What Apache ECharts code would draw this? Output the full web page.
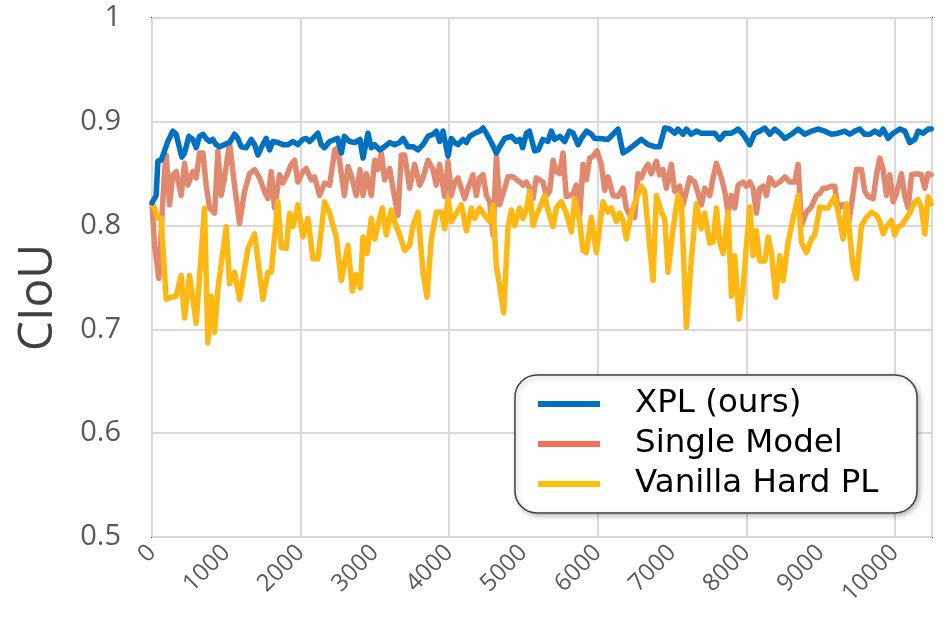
<!DOCTYPE html>
<html>
<head>
<meta charset="utf-8">
<script src="https://cdn.jsdelivr.net/npm/echarts@6/dist/echarts.min.js"></script>
<style>html,body{margin:0;padding:0;background:#fff;}#chart{width:951px;height:620px;}</style>
</head>
<body>
<div id="chart"></div>
<script>
// [iteration, CIoU]
const xplData = [
[0,0.822],[56,0.829],[79,0.862],[123,0.863],[168,0.872],[213,0.881],[281,0.891],[325,0.888],[370,0.875],[402,0.866],[438,0.870],[496,0.886],[550,0.883],[595,0.875],[640,0.886],[685,0.888],[729,0.884],[774,0.881],[819,0.883],[864,0.878],[909,0.876],[976,0.878],[1044,0.880],[1111,0.888],[1156,0.884],[1201,0.876],[1268,0.875],[1336,0.883],[1381,0.878],[1425,0.868],[1470,0.875],[1538,0.884],[1583,0.873],[1627,0.881],[1695,0.880],[1762,0.878],[1829,0.878],[1897,0.881],[1964,0.878],[2031,0.883],[2076,0.884],[2121,0.881],[2166,0.884],[2233,0.889],[2278,0.878],[2323,0.875],[2391,0.881],
[2460,0.883],[2500,0.884],[2550,0.870],[2590,0.886],[2660,0.881],[2730,0.880],[2800,0.883],[2840,0.865],[2885,0.881],[2907,0.889],[2952,0.875],[2997,0.878],[3064,0.873],[3132,0.876],[3199,0.880],[3266,0.878],[3334,0.880],[3379,0.884],[3446,0.876],[3513,0.876],[3581,0.873],[3648,0.878],[3715,0.886],[3783,0.888],[3827,0.891],[3872,0.881],[3917,0.891],[3985,0.867],[4029,0.884],[4074,0.880],[4119,0.878],[4187,0.883],[4232,0.880],[4276,0.886],[4344,0.889],[4411,0.891],[4456,0.894],[4501,0.889],[4568,0.880],[4636,0.870],[4680,0.876],[4748,0.884],[4838,0.886],[4905,0.881],
[4950,0.883],[4990,0.875],[5040,0.889],[5080,0.891],[5150,0.872],[5200,0.873],[5260,0.883],[5330,0.881],[5375,0.891],[5420,0.883],[5490,0.886],[5555,0.881],[5620,0.891],[5670,0.889],[5735,0.878],[5780,0.884],[5850,0.891],[5914,0.888],[5960,0.884],[6026,0.884],[6139,0.883],[6206,0.888],[6273,0.893],[6341,0.870],[6408,0.873],[6498,0.878],[6587,0.883],[6677,0.878],[6767,0.876],[6834,0.876],[6902,0.894],[6969,0.893],[7036,0.889],[7081,0.893],[7149,0.888],[7194,0.893],[7261,0.888],[7328,0.891],[7395,0.889],[7463,0.889],
[7575,0.889],[7643,0.883],[7710,0.889],[7800,0.889],[7890,0.893],[7957,0.888],[8047,0.878],[8114,0.889],[8181,0.891],[8249,0.894],[8316,0.888],[8383,0.893],[8451,0.889],[8518,0.884],[8608,0.888],[8698,0.893],[8787,0.888],[8877,0.891],[8967,0.893],[9057,0.891],[9147,0.888],[9236,0.889],[9326,0.891],[9393,0.888],[9461,0.891],[9528,0.893],[9595,0.888],[9663,0.888],[9730,0.891],[9797,0.888],[9842,0.893],[9910,0.884],[9977,0.889],[10067,0.893],[10134,0.891],[10201,0.880],[10269,0.883],[10314,0.891],[10381,0.889],[10448,0.893],[10490,0.893]
];
const singleData = [
[0,0.821],[34,0.781],[92,0.749],[123,0.794],[168,0.852],[191,0.868],[236,0.820],[281,0.849],[325,0.852],[393,0.829],[438,0.860],[483,0.839],[550,0.852],[595,0.846],[640,0.870],[685,0.870],[729,0.839],[774,0.817],[842,0.812],[887,0.872],[931,0.829],[976,0.846],[1044,0.880],[1111,0.839],[1178,0.802],[1246,0.833],[1313,0.850],[1381,0.854],[1448,0.846],[1515,0.833],[1560,0.826],[1605,0.852],[1650,0.817],[1717,0.849],[1762,0.841],[1807,0.847],[1874,0.859],[1919,0.863],[1964,0.842],[2031,0.852],[2076,0.855],[2144,0.844],[2188,0.847],[2256,0.829],[2323,0.841],[2391,0.839],
[2460,0.873],[2500,0.875],[2590,0.829],[2640,0.857],[2680,0.849],[2750,0.829],[2800,0.854],[2840,0.829],[2885,0.850],[2952,0.829],[2997,0.863],[3042,0.854],[3087,0.870],[3132,0.844],[3199,0.855],[3244,0.836],[3311,0.810],[3356,0.868],[3401,0.868],[3468,0.836],[3536,0.859],[3603,0.839],[3648,0.846],[3715,0.863],[3783,0.854],[3827,0.839],[3872,0.859],[3940,0.828],[3985,0.862],[4029,0.829],[4074,0.842],[4119,0.846],[4164,0.836],[4209,0.826],[4254,0.836],[4321,0.849],[4366,0.829],[4411,0.846],[4456,0.849],[4501,0.829],[4546,0.823],[4591,0.791],[4636,0.867],[4680,0.820],[4725,0.831],[4793,0.847],[4860,0.847],[4950,0.842],
[4994,0.839],[5039,0.842],[5084,0.836],[5129,0.826],[5173,0.846],[5263,0.842],[5308,0.829],[5353,0.833],[5398,0.863],[5443,0.852],[5488,0.850],[5533,0.870],[5577,0.828],[5622,0.829],[5667,0.831],[5712,0.839],[5757,0.810],[5802,0.859],[5847,0.844],[5892,0.865],[5937,0.867],[5990,0.872],[6049,0.859],[6094,0.834],[6139,0.847],[6206,0.829],[6273,0.828],[6341,0.836],[6385,0.817],[6430,0.810],[6498,0.808],[6543,0.850],[6587,0.846],[6632,0.854],[6677,0.859],[6722,0.850],[6790,0.862],[6834,0.849],[6879,0.854],[6924,0.836],[6991,0.859],[7036,0.833],[7104,0.838],[7149,0.820],[7194,0.833],[7238,0.846],[7306,0.842],[7395,0.820],[7440,0.836],[7508,0.829],
[7553,0.846],[7598,0.860],[7665,0.846],[7710,0.833],[7755,0.813],[7800,0.829],[7845,0.817],[7890,0.839],[7957,0.842],[8002,0.838],[8047,0.842],[8092,0.836],[8136,0.812],[8181,0.836],[8226,0.838],[8271,0.829],[8316,0.846],[8383,0.839],[8451,0.842],[8518,0.847],[8585,0.842],[8653,0.842],[8698,0.859],[8742,0.800],[8810,0.813],[8877,0.818],[8944,0.829],[8989,0.831],[9034,0.836],[9079,0.836],[9147,0.838],[9191,0.838],[9236,0.815],[9281,0.820],[9326,0.820],[9371,0.800],[9416,0.820],[9483,0.854],[9551,0.854],[9595,0.833],[9640,0.828],[9708,0.826],[9753,0.849],[9797,0.865],[9842,0.854],[9887,0.829],[9932,0.849],[9977,0.823],[10022,0.831],[10089,0.850],[10134,0.828],[10179,0.817],[10224,0.849],[10291,0.850],[10358,0.849],[10403,0.836],[10448,0.850],[10490,0.849]
];
const vanillaData = [
[0,0.821],[34,0.817],[79,0.807],[123,0.807],[191,0.729],[258,0.731],[325,0.732],[393,0.752],[438,0.711],[505,0.752],[595,0.706],[707,0.817],[752,0.687],[797,0.732],[842,0.697],[887,0.739],[999,0.799],[1044,0.744],[1111,0.755],[1178,0.729],[1291,0.778],[1381,0.792],[1493,0.729],[1560,0.755],[1605,0.755],[1695,0.823],[1740,0.779],[1807,0.778],[1852,0.812],[1897,0.799],[1964,0.820],[2031,0.789],[2099,0.807],[2166,0.768],[2233,0.768],[2323,0.823],[2391,0.812],
[2436,0.800],[2481,0.789],[2548,0.747],[2638,0.781],[2696,0.737],[2750,0.753],[2804,0.740],[2840,0.789],[2894,0.773],[2952,0.807],[2997,0.787],[3064,0.807],[3100,0.817],[3154,0.791],[3221,0.815],[3266,0.804],[3334,0.791],[3401,0.776],[3468,0.781],[3513,0.800],[3581,0.813],[3648,0.755],[3702,0.731],[3760,0.787],[3827,0.813],[3895,0.813],[3940,0.797],[3985,0.826],[4029,0.804],[4097,0.812],[4164,0.820],[4232,0.795],[4299,0.817],[4344,0.807],[4411,0.817],[4478,0.810],[4546,0.804],[4591,0.820],[4636,0.761],[4680,0.742],[4734,0.716],[4793,0.799],[4838,0.815],[4882,0.800],[4950,0.817],
[4994,0.807],[5039,0.815],[5084,0.833],[5129,0.800],[5173,0.810],[5218,0.817],[5286,0.829],[5331,0.815],[5398,0.799],[5443,0.817],[5510,0.823],[5577,0.812],[5645,0.794],[5690,0.826],[5757,0.804],[5802,0.776],[5847,0.774],[5914,0.808],[5982,0.774],[6071,0.823],[6139,0.813],[6183,0.817],[6251,0.804],[6296,0.812],[6341,0.805],[6385,0.787],[6453,0.812],[6520,0.826],[6587,0.838],[6632,0.833],[6677,0.797],[6745,0.747],[6790,0.829],[6857,0.813],[6902,0.807],[6947,0.755],[7014,0.797],[7081,0.829],[7126,0.823],[7194,0.702],[7261,0.768],[7328,0.821],[7395,0.797],[7440,0.812],[7508,0.783],
[7553,0.784],[7598,0.817],[7643,0.784],[7688,0.773],[7755,0.813],[7800,0.732],[7845,0.771],[7903,0.710],[7957,0.740],[8002,0.781],[8047,0.818],[8092,0.771],[8136,0.795],[8181,0.766],[8249,0.766],[8294,0.789],[8338,0.774],[8397,0.731],[8451,0.771],[8496,0.747],[8563,0.784],[8630,0.807],[8698,0.829],[8742,0.784],[8810,0.774],[8877,0.787],[8922,0.791],[8989,0.818],[9057,0.817],[9102,0.817],[9191,0.828],[9236,0.813],[9304,0.787],[9349,0.821],[9393,0.791],[9438,0.760],[9483,0.749],[9551,0.800],[9618,0.808],[9685,0.813],[9753,0.810],[9797,0.804],[9842,0.792],[9887,0.799],[9954,0.805],[9999,0.791],[10044,0.799],[10089,0.800],[10134,0.805],[10201,0.812],[10269,0.823],[10314,0.825],[10358,0.817],[10403,0.792],[10448,0.828],[10490,0.821]
];
const seriesNames = ['XPL (ours)', 'Single Model', 'Vanilla Hard PL'];
const legendColors = ['#0070C0', '#F0715A', '#FFC000'];
const lineColors = ['#0070C0', '#E0896F', '#FDB813'];
const xMax = 10500;

const FONT = '"Open Sans", "Noto Sans", sans-serif';
const chart = echarts.init(document.getElementById('chart'), null, {renderer: 'canvas'});

function lineSeries(idx, data) {
  return {
    name: seriesNames[idx], type: 'line', data: data, xAxisIndex: 0,
    showSymbol: false, symbol: 'none', smooth: false,
    itemStyle: {color: legendColors[idx]},
    lineStyle: {color: lineColors[idx], width: 5.5, join: 'round', cap: 'round'},
    emphasis: {disabled: true}
  };
}

const option = {
  animation: false,
  backgroundColor: '#ffffff',
  grid: {left: 152, right: 19, top: 18, bottom: 83, show: true, backgroundColor: '#fdfdfd', borderColor: '#404040', borderWidth: 2},
  xAxis: [
    {type: 'value', min: 0, max: xMax, interval: 1000,
     axisLine: {show: false}, axisTick: {show: false}, splitLine: {show: false},
     axisLabel: {rotate: 45, fontSize: 24, color: '#595959', fontFamily: FONT, margin: 12, showMaxLabel: false,
       formatter: v => String(Math.round(v))}},
    {type: 'value', position: 'bottom', min: 0, max: xMax, interval: 2000,
     axisLine: {show: false}, axisTick: {show: false}, axisLabel: {show: false},
     splitLine: {show: true, lineStyle: {color: '#d9d9d9', width: 2}}}
  ],
  yAxis: {
    type: 'value', min: 0.5, max: 1, interval: 0.1,
    name: 'CIoU', nameLocation: 'middle', nameGap: 90,
    nameTextStyle: {fontSize: 48, color: '#404040', fontFamily: FONT, padding: [0, 40, 0, 0]},
    axisLine: {show: false}, axisTick: {show: false},
    axisLabel: {fontSize: 29, color: '#595959', fontFamily: FONT, margin: 31,
      formatter: v => String(Math.round(v * 10) / 10)},
    splitLine: {show: true, lineStyle: {color: '#d9d9d9', width: 2}}
  },
  legend: {
    orient: 'vertical', left: 515, top: 375,
    backgroundColor: '#ffffff', borderColor: '#404040', borderWidth: 1.5, borderRadius: 22,
    padding: [9, 15, 9, 23],
    shadowBlur: 5, shadowColor: 'rgba(0,0,0,0.25)', shadowOffsetX: 2, shadowOffsetY: 2,
    itemWidth: 62, itemHeight: 6, itemGap: 0, icon: 'rect',
    textStyle: {fontSize: 32.5, color: '#000000', fontFamily: '"DejaVu Sans", sans-serif', lineHeight: 40, padding: [0, 0, 0, 30], width: 267},
    data: seriesNames.map((n, i) => ({name: n, icon: 'rect', itemStyle: {color: legendColors[i]}}))
  },
  series: [
    lineSeries(1, singleData),
    lineSeries(2, vanillaData),
    lineSeries(0, xplData)
  ]
};
chart.setOption(option);
</script>
</body>
</html>
